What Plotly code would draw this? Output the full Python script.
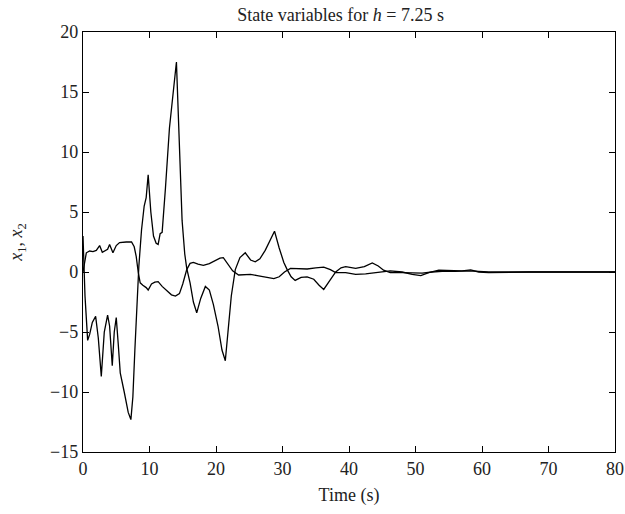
import plotly.graph_objects as go

# Curve 1 (large excursions)
t1 = [0, 0.3, 0.7, 1.0, 1.4, 1.9, 2.3, 2.75, 3.2, 3.7, 4.0, 4.4, 4.7, 5.0, 5.3, 5.6, 6.2, 6.8, 7.2,
      7.5, 7.8, 8.1, 8.4, 8.8, 9.2, 9.5, 9.8, 10.2, 10.6, 11.0, 11.3, 11.6, 11.9, 12.4, 13.0, 14.05,
      14.5, 14.9, 15.3, 15.6, 16.1, 16.6, 17.1, 17.7, 18.4, 19.0, 19.6, 20.3, 20.9, 21.4, 21.8, 22.3,
      22.9, 23.6, 24.4, 25.2, 25.9, 26.6, 27.4, 28.2, 28.8, 29.5, 30.2, 30.7, 31.3, 31.9, 32.8, 33.7,
      34.7, 35.5, 36.2, 37.0, 38.0, 38.8, 39.5, 41.0, 42.3, 43.5, 44.4, 45.2, 46.2, 48, 49.5, 51,
      52.5, 54, 56, 58, 59.5, 61, 67, 80]
x1 = [3.0, -2.0, -5.7, -5.2, -4.2, -3.7, -5.5, -8.7, -5.0, -3.6, -4.5, -7.8, -5.0, -3.8, -6.0, -8.4,
      -10.0, -11.7, -12.3, -10.4, -6.5, -2.5, 0.5, 3.5, 5.5, 6.2, 8.1, 5.0, 3.0, 2.4, 2.3, 3.2, 3.3,
      7.0, 12.0, 17.5, 10.0, 4.3, 1.5, 0.3, -0.9, -2.5, -3.4, -2.2, -1.2, -1.5, -2.7, -4.5, -6.5,
      -7.4, -5.0, -2.0, 0.2, 1.2, 1.6, 1.0, 0.85, 1.1, 1.8, 2.8, 3.4, 2.0, 0.8, 0.2, -0.4, -0.7,
      -0.45, -0.4, -0.6, -1.1, -1.45, -0.8, 0.0, 0.35, 0.45, 0.3, 0.45, 0.75, 0.5, 0.15, -0.05,
      -0.05, -0.1, -0.1, 0.0, 0.05, 0.05, 0.1, 0.05, 0.0, 0.0, 0.0]

# Curve 2 (smaller excursions)
t2 = [0, 0.5, 1.0, 1.5, 2.0, 2.5, 2.9, 3.3, 3.7, 4.0, 4.5, 5.0, 5.5, 6.5, 7.3, 7.7, 8.0, 8.3, 8.6,
      9.0, 9.5, 9.8, 10.3, 10.8, 11.3, 11.9, 12.5, 13.3, 13.9, 14.5, 15.0, 15.6, 16.1, 16.6, 17.3,
      18.1, 19.0, 19.8, 20.6, 21.1, 21.8, 22.5, 23.4, 24.3, 25.2, 26.2, 27.3, 28.7, 29.5, 30.3,
      31.2, 32.4, 33.7, 35.0, 36.2, 37.2, 38.0, 39.5, 41.0, 42.5, 44, 46.2, 48, 49.5, 50.8, 52,
      53.5, 55.5, 57, 58.3, 59.5, 61, 64, 67, 80]
x2 = [0.0, 1.6, 1.75, 1.7, 1.8, 2.2, 1.65, 1.8, 1.9, 2.3, 1.6, 2.2, 2.45, 2.5, 2.5, 2.1, 1.3, 0.0,
      -0.9, -1.1, -1.3, -1.5, -1.0, -0.85, -0.8, -1.2, -1.5, -1.9, -2.0, -1.8, -1.0, 0.2, 0.72,
      0.8, 0.65, 0.55, 0.7, 0.95, 1.15, 1.2, 0.7, 0.1, -0.25, -0.2, -0.2, -0.3, -0.4, -0.55, -0.4,
      0.0, 0.3, 0.25, 0.25, 0.35, 0.4, 0.2, -0.05, -0.05, -0.2, -0.15, -0.05, 0.1, 0.0, -0.2, -0.3,
      -0.05, 0.15, 0.15, 0.1, 0.18, 0.0, -0.05, 0.0, 0.0, 0.0]

x_ticks = [0, 10, 20, 30, 40, 50, 60, 70, 80]
y_ticks = [-15, -10, -5, 0, 5, 10, 15, 20]

FONT = "Liberation Serif"
TXT = "#222"

fig = go.Figure()
for t, v in [(t1, x1), (t2, x2)]:
    fig.add_trace(go.Scatter(x=t, y=v, mode="lines",
                             line=dict(color="black", width=1.3),
                             showlegend=False, hoverinfo="skip"))

axis_common = dict(showline=True, linecolor="black", linewidth=1.3, mirror="ticks",
                   ticks="inside", ticklen=6, tickcolor="black", tickwidth=1.2,
                   showgrid=False, zeroline=False, automargin=False,
                   tickfont=dict(family=FONT, size=18, color=TXT))

fig.update_layout(
    width=625, height=514,
    margin=dict(l=83, r=10, t=32, b=62),
    paper_bgcolor="white", plot_bgcolor="white",
    title=dict(text="State variables for <i>h</i> = 7.25 s", x=0.545, xanchor="center",
               y=0.972, yanchor="middle",
               font=dict(family=FONT, size=18, color=TXT)),
    xaxis=dict(range=[0, 80], tickvals=x_ticks, **axis_common,
               title=dict(text="Time (s)", font=dict(family=FONT, size=18, color=TXT),
                          standoff=10)),
    yaxis=dict(range=[-15, 20], tickvals=y_ticks, **axis_common,
               title=dict(text="<i>x</i><sub>1</sub>, <i>x</i><sub>2</sub>",
                          font=dict(family=FONT, size=18, color=TXT),
                          standoff=22)),
)

fig.write_html("out.html")
